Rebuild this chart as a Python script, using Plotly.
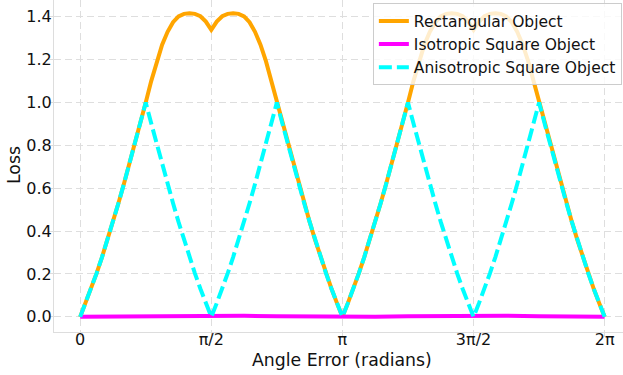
import numpy as np
import plotly.graph_objects as go

# Angle grid (radians), 0 .. 2*pi in steps of pi/48
angles = np.linspace(0, 2 * np.pi, 97)

rect_loss = [
    0.000, 0.064, 0.131, 0.203, 0.279, 0.359, 0.443, 0.530, 0.620, 0.712, 0.806, 0.903, 1.000,
    1.100, 1.193, 1.270, 1.330, 1.375, 1.402, 1.414, 1.417, 1.414, 1.403, 1.378, 1.339,
    1.378, 1.403, 1.414, 1.417, 1.414, 1.402, 1.375, 1.330, 1.270, 1.193, 1.100, 1.000,
    0.903, 0.806, 0.712, 0.620, 0.530, 0.443, 0.359, 0.279, 0.203, 0.131, 0.064, 0.000,
    0.064, 0.131, 0.203, 0.279, 0.359, 0.443, 0.530, 0.620, 0.712, 0.806, 0.903, 1.000,
    1.100, 1.193, 1.270, 1.330, 1.375, 1.402, 1.414, 1.417, 1.414, 1.403, 1.378, 1.339,
    1.378, 1.403, 1.414, 1.417, 1.414, 1.402, 1.375, 1.330, 1.270, 1.193, 1.100, 1.000,
    0.903, 0.806, 0.712, 0.620, 0.530, 0.443, 0.359, 0.279, 0.203, 0.131, 0.064, 0.000,
]

aniso_loss = [
    0.000, 0.064, 0.131, 0.203, 0.279, 0.359, 0.443, 0.530, 0.620, 0.712, 0.806, 0.903, 1.000,
    0.903, 0.806, 0.712, 0.620, 0.530, 0.443, 0.359, 0.279, 0.203, 0.131, 0.064, 0.000,
    0.064, 0.131, 0.203, 0.279, 0.359, 0.443, 0.530, 0.620, 0.712, 0.806, 0.903, 1.000,
    0.903, 0.806, 0.712, 0.620, 0.530, 0.443, 0.359, 0.279, 0.203, 0.131, 0.064, 0.000,
    0.064, 0.131, 0.203, 0.279, 0.359, 0.443, 0.530, 0.620, 0.712, 0.806, 0.903, 1.000,
    0.903, 0.806, 0.712, 0.620, 0.530, 0.443, 0.359, 0.279, 0.203, 0.131, 0.064, 0.000,
    0.064, 0.131, 0.203, 0.279, 0.359, 0.443, 0.530, 0.620, 0.712, 0.806, 0.903, 1.000,
    0.903, 0.806, 0.712, 0.620, 0.530, 0.443, 0.359, 0.279, 0.203, 0.131, 0.064, 0.000,
]

iso_angles = np.linspace(0, 2 * np.pi, 17)
iso_loss = [0.000, 0.001, 0.003, 0.005, 0.006, 0.005, 0.003, 0.001, 0.000,
            0.001, 0.003, 0.005, 0.006, 0.005, 0.003, 0.001, 0.000]

xtick_vals = [0, np.pi / 2, np.pi, 3 * np.pi / 2, 2 * np.pi]
xtick_text = ["0", "π/2", "π", "3π/2", "2π"]
ytick_vals = [0.0, 0.2, 0.4, 0.6, 0.8, 1.0, 1.2, 1.4]
ytick_text = ["0.0", "0.2", "0.4", "0.6", "0.8", "1.0", "1.2", "1.4"]

FONT = "DejaVu Sans"

fig = go.Figure()
fig.add_trace(go.Scatter(x=angles, y=rect_loss, mode="lines", name="Rectangular Object",
                         line=dict(color="#FFA500", width=4)))
fig.add_trace(go.Scatter(x=iso_angles, y=iso_loss, mode="lines", name="Isotropic Square Object",
                         line=dict(color="#FF00FF", width=4)))
fig.add_trace(go.Scatter(x=angles, y=aniso_loss, mode="lines", name="Anisotropic Square Object",
                         line=dict(color="#00FFFF", width=4, dash="13px,5px")))

axis_common = dict(
    showgrid=True, gridcolor="#dedede", gridwidth=1, griddash="7px,4px",
    showline=True, linecolor="#dddddd", linewidth=1,
    ticks="outside", ticklen=4, tickcolor="#dddddd",
    zeroline=False, automargin=False,
    tickfont=dict(family=FONT, size=16, color="#111111"),
)

fig.update_layout(
    width=623, height=375,
    margin=dict(l=54, r=0, t=0, b=43, autoexpand=False),
    paper_bgcolor="white", plot_bgcolor="white",
    font=dict(family=FONT, color="#111111"),
    xaxis=dict(range=[-0.3137, 6.503], tickmode="array", tickvals=xtick_vals,
               ticktext=xtick_text, ticklabelstandoff=-11, **axis_common),
    yaxis=dict(range=[-0.0707, 1.4786], tickmode="array", tickvals=ytick_vals,
               ticktext=ytick_text, ticklabelstandoff=-6, **axis_common),
    legend=dict(x=0.998, xanchor="right", y=0.99, yanchor="top",
                bgcolor="rgba(255,255,255,0.8)", bordercolor="#cccccc", borderwidth=1,
                font=dict(family=FONT, size=15.5, color="#111111")),
    showlegend=True,
    annotations=[
        dict(text="Angle Error (radians)", xref="paper", yref="paper", x=0.506, y=0,
             xanchor="center", yanchor="middle", yshift=-28, showarrow=False,
             font=dict(family=FONT, size=17.3, color="#111111")),
        dict(text="Loss", xref="paper", yref="paper", x=-0.0703, y=0.503,
             xanchor="center", yanchor="middle", textangle=-90, showarrow=False,
             font=dict(family=FONT, size=17.3, color="#111111")),
    ],
)

fig.write_html("out.html", config={"displayModeBar": False},
               post_script="document.body.style.margin='0px';document.body.style.padding='0px';")
